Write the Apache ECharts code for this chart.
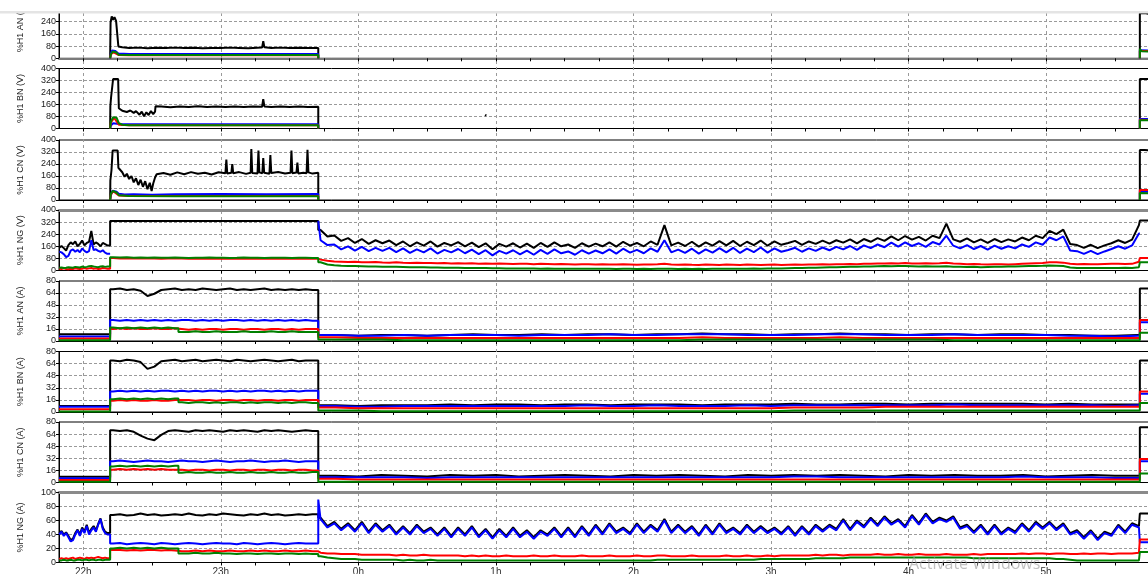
<!DOCTYPE html>
<html>
<head>
<meta charset="utf-8">
<script src="https://cdn.jsdelivr.net/npm/echarts@6/dist/echarts.min.js"></script>
<style>
  html, body { margin: 0; padding: 0; background: #fff; }
  #chart { width: 1148px; height: 574px; }
</style>
</head>
<body>
<div id="chart"></div>
<script>
// Time is expressed in minutes after 21:00.
const tMin = 49.4, tMax = 526.2;
const tOn1 = 71.7, tGreenStep = 101.5, tOff = 162.5, tOn2 = 520.9;

const hourTicks = [60, 120, 180, 240, 300, 360, 420, 480];
const hourLabels = ['22h', '23h', '0h', '1h', '2h', '3h', '4h', '5h'];

const panelNames = ['%H1 AN (V)', '%H1 BN (V)', '%H1 CN (V)', '%H1 NG (V)',
                    '%H1 AN (A)', '%H1 BN (A)', '%H1 CN (A)', '%H1 NG (A)'];
const panelMax  = [400, 400, 400, 400, 80, 80, 80, 100];
const panelStep = [80, 80, 80, 80, 16, 16, 16, 20];

// ---------- %H1 AN (V) ----------
const anV_black_on = [[71.7,0],[71.9,235],[72.4,275],[73.0,252],[73.6,270],[74.3,245],[74.9,258],[75.3,78],[77,72],[80,68],[84,70],[88,66],[92,69],[96,67],[100,70],[104,67],[108,69],[112,66],[116,68],[120,67],[124,70],[128,68],[132,66],[136,69],[138.0,70],[138.5,112],[139.0,72],[142,68],[146,70],[150,67],[154,69],[158,67],[162.5,68],[162.5,0]];
const anV_black_end = [[520.9,0],[520.9,295],[523.6,295],[524.0,286],[526.2,288]];
const anV_blue_on = [[71.7,0],[72.0,30],[72.6,52],[74.0,48],[75.3,32],[80,28],[100,29],[130,28],[162.5,28],[162.5,0]];
const anV_blue_end = [[520.9,0],[520.9,52],[526.2,50]];
const anV_red_on = [[71.7,0],[72.0,25],[73.0,40],[75.3,22],[80,20],[162.5,20],[162.5,0]];
const anV_red_end = [[520.9,0],[520.9,48],[526.2,47]];
const anV_green_on = [[71.7,0],[72.0,25],[72.8,44],[74.5,38],[75.3,24],[80,22],[162.5,22],[162.5,0]];
const anV_green_end = [[520.9,0],[520.9,62],[521.6,46],[526.2,45]];

// ---------- %H1 BN (V) ----------
const bnV_black_on = [[71.7,0],[71.8,150],[72.1,205],[72.7,212],[73.0,330],[75.2,330],[75.5,135],[77,118],[79,110],[80.5,120],[82,104],[83,116],[84.5,92],[85.5,112],[86.5,82],[87.5,108],[88.5,90],[89.5,116],[90.5,96],[91.3,112],[91.5,148],[94,146],[98,142],[102,147],[106,144],[110,148],[114,143],[118,146],[122,144],[126,147],[130,143],[134,146],[138.0,145],[138.5,196],[139.0,147],[142,144],[146,147],[150,143],[154,146],[158,144],[162.5,145],[162.5,0]];
const bnV_black_dot = [[200,null],[235.3,92],[235.8,86],[240,null]];
const bnV_black_end = [[520.9,0],[520.9,330],[526.2,330]];
const bnV_blue_on = [[71.7,0],[72.0,20],[73.0,35],[75.5,30],[80,28],[162.5,28],[162.5,0]];
const bnV_blue_end = [[520.9,0],[520.9,64],[526.2,62]];
const bnV_red_on = [[71.7,0],[72.0,40],[73.5,70],[75.5,25],[80,22],[162.5,22],[162.5,0]];
const bnV_red_end = [[520.9,0],[520.9,58],[526.2,57]];
const bnV_green_on = [[71.7,0],[72.0,45],[73.0,75],[74.5,72],[75.5,35],[77,25],[80,22],[162.5,21],[162.5,0]];
const bnV_green_end = [[520.9,0],[520.9,55],[526.2,54]];

// ---------- %H1 CN (V) ----------
const cnV_black_on = [[71.7,0],[71.8,130],[72.3,200],[72.8,330],[75.0,330],[75.3,215],[76,205],[77,185],[78,155],[79,175],[80,140],[81,160],[82,118],[83,145],[84,100],[85,135],[86,88],[87,125],[88,72],[89,115],[89.8,60],[90.5,110],[91.3,150],[92,172],[95,180],[98,168],[101,184],[104,172],[107,186],[110,175],[113,182],[116,170],[119,185],[122.0,178],[122.4,270],[122.8,176],[124.6,182],[125.0,240],[125.4,178],[128,186],[131,174],[133.0,182],[133.3,340],[133.7,180],[136.0,176],[136.4,330],[136.8,184],[138.1,178],[138.5,280],[138.9,182],[141.2,175],[141.6,300],[142.0,180],[145,186],[148,176],[150.4,182],[150.8,330],[151.2,178],[153.0,184],[153.4,250],[153.8,176],[156,182],[157.4,178],[157.8,335],[158.2,184],[160,176],[162.5,182],[162.5,0]];
const cnV_black_end = [[520.9,0],[520.9,333],[523.0,333],[523.5,322],[526.2,330]];
const cnV_blue_on = [[71.7,0],[72.0,30],[72.8,62],[74.5,55],[75.5,42],[78,36],[82,38],[90,35],[100,38],[120,40],[140,38],[162.5,40],[162.5,0]];
const cnV_blue_end = [[520.9,0],[520.9,56],[526.2,55]];
const cnV_red_on = [[71.7,0],[72.0,35],[73.0,58],[75.5,30],[80,26],[162.5,26],[162.5,0]];
const cnV_red_end = [[520.9,0],[520.9,67],[526.2,66]];
const cnV_green_on = [[71.7,0],[72.0,40],[72.8,60],[74.5,50],[75.5,32],[80,26],[100,25],[162.5,25],[162.5,0]];
const cnV_green_end = [[520.9,0],[520.9,46],[526.2,45]];

// ---------- %H1 NG (V) ----------
// before 22:12, one reading per minute from 49.5
const ngV_black_pre = [150,162,148,132,168,186,174,192,160,176,198,166,182,190,262,172,186,176,160,182,174,166];
const ngV_blue_pre  = [125,120,108,88,96,132,140,124,136,120,146,130,120,128,200,136,140,130,124,134,118,110];
const ngV_red_pre   = [12,10,14,10,8,12,10,14,12,10,12,16,12,14,16,12,14,10,12,16,14,12];
const ngV_green_pre = [18,20,16,18,22,20,18,24,22,20,26,22,24,28,30,26,24,22,26,28,24,26];
// 22:12 - 23:42, every 3 minutes from 73
const ngV_black_on = [328,328,328,328,328,328,328,328,328,328,328,328,328,328,328,328,328,328,328,328,328,328,328,328,328,328,328,328,328,328];
const ngV_red_on   = [82,80,81,79,80,79,80,78,79,80,79,78,79,78,80,78,79,77,78,79,78,79,77,78,79,78,77,78,78,77];
const ngV_green_on = [88,86,87,85,86,84,86,85,84,86,85,83,85,84,86,84,85,83,84,86,84,85,83,84,85,84,83,85,84,83];
// 23:42 - 5:41, every 3 minutes from 163.5
const ngV_black_low = [268,225,232,196,214,182,208,176,200,180, 198,168,192,160,186,164,192,158,182,166,
  188,160,184,154,180,140,176,158,180,152, 178,150,182,156,186,160,172,150,180,158,
  178,160,186,158,190,164,182,160,192,170, 300,166,184,162,190,158,186,164,194,166,
  196,162,190,168,198,164,192,170,182,196, 170,192,176,198,178,200,184,206,180,208,
  190,214,196,226,200,228,204,222,198,230, 214,310,206,190,212,186,206,182,208,188,
  206,192,218,200,230,214,262,240,270,175, 168,150,170,148,166,180,200,182,204,300];
const ngV_blue_low = [200,168,172,140,160,132,156,128,150,130, 150,122,146,116,140,120,146,112,136,120,
  142,114,138,108,134,100,130,112,134,106, 132,104,136,110,140,114,126,104,134,112,
  132,114,140,112,144,118,136,114,146,124, 200,120,138,116,144,112,140,118,148,120,
  150,116,144,122,152,118,146,124,136,150, 124,146,130,152,134,156,140,162,136,166,
  148,172,154,184,158,186,162,180,156,188, 172,230,164,146,168,142,162,138,164,144,
  160,146,172,156,186,170,218,200,226,132, 128,110,130,108,126,142,160,144,166,245];
const ngV_red_low = [72,64,60,58,56,58,55,54,56,53, 52,54,51,50,52,49,50,48,50,47,
  48,46,48,45,47,44,46,45,43,45, 44,42,44,43,41,43,42,40,42,41,
  40,42,40,39,41,40,38,40,39,41, 44,39,38,40,38,37,39,38,37,39,
  38,37,39,38,37,38,39,37,38,39, 38,40,39,41,40,42,41,43,42,44,
  45,47,46,48,47,49,47,46,48,47, 48,52,46,44,42,43,41,40,42,41,
  40,42,44,46,48,50,54,55,52,44, 42,43,41,42,43,44,45,43,44,58];
const ngV_green_low = [55,40,35,32,30,29,28,27,26,25, 25,24,23,22,22,21,20,20,19,18,
  18,17,17,16,16,15,15,14,14,14, 13,13,12,13,12,12,11,12,11,11,
  11,12,11,10,11,11,10,11,10,11, 12,11,10,11,10,11,10,11,12,11,
  12,11,12,13,12,13,14,13,15,16, 17,18,19,20,21,22,23,24,25,26,
  27,28,29,28,30,29,28,27,28,27, 26,28,25,24,23,24,22,23,24,25,
  26,27,28,29,30,31,33,32,30,20, 17,16,17,16,17,16,17,18,17,22];
const ngV_end = { black: 330, red: 82, green: 54 };

// ---------- %H1 AN / BN / CN (A) ----------
// readings every 3 minutes from 73 (22:13 - 23:40)
const anA_black_on = [69,70,68,69,67,60,63,68,69,70,68,69,68,70,69,68,69,70,68,69,68,69,70,68,69,68,69,68,69,68];
const anA_blue_on  = [28,27,28,27,28,27,28,27,28,27,28,28,27,28,27,28,27,28,28,27,28,27,28,27,28,27,28,27,28,27];
const anA_red_on   = [16,17,16,17,16,16,17,16,16,17,16,15,16,15,16,16,15,16,16,15,16,16,15,16,16,15,16,15,16,16];
const anA_green_on1 = [18,17,18,17,18,17,18,17,18,17];
const anA_green_on2 = [12,12,13,12,12,13,12,12,12,13,12,12,12,13,12,12,13,12,12,12];
const bnA_black_on = [68,67,69,68,66,57,60,67,68,69,67,68,69,67,68,69,68,67,69,68,67,68,69,68,67,68,69,67,68,68];
const bnA_blue_on  = [27,28,27,28,27,28,27,28,28,27,28,27,28,27,28,28,27,28,27,28,27,28,28,27,28,27,28,27,28,28];
const bnA_red_on   = [15,16,15,16,15,15,16,15,15,16,16,16,15,16,16,15,16,16,15,16,16,15,16,16,15,16,16,15,16,16];
const bnA_green_on1 = [17,18,17,18,17,18,17,18,17,18];
const bnA_green_on2 = [13,12,13,13,12,13,12,13,13,12,13,12,13,13,12,13,12,13,13,12];
const cnA_black_on = [69,68,69,67,62,58,56,63,68,69,68,67,69,68,69,68,67,69,68,69,68,67,69,68,69,68,67,68,69,68];
const cnA_blue_on  = [28,29,28,27,28,29,28,28,27,28,29,28,28,27,28,29,28,27,28,28,29,28,27,28,28,29,28,27,28,28];
const cnA_red_on   = [17,18,17,18,17,18,17,18,17,17,17,16,17,17,16,17,17,16,17,17,16,17,17,16,17,17,16,17,17,16];
const cnA_green_on1 = [21,22,21,22,21,22,21,22,21,22];
const cnA_green_on2 = [13,14,13,13,14,13,13,14,13,13,14,13,13,14,13,13,14,13,13,14];

// readings every 10 minutes from 170 (23:50 - 5:40)
const anA_black_low = [8,7,8,8,7,8,9,8,8,9,8,9,9,8,9,9,10,9,9,8,9,9,10,9,9,8,9,9,8,9,9,8,8,7,7,8];
const anA_blue_low  = [8,7,7,8,7,8,8,8,7,8,8,8,9,8,8,9,9,9,8,8,8,9,9,9,8,8,8,9,8,8,8,8,7,7,6,7];
const anA_red_low   = [5,4,4,4,4,4,4,4,4,4,4,4,4,4,4,4,5,4,4,4,4,4,5,4,4,4,4,4,4,4,4,4,4,4,4,4];
const anA_green_low = [2,2,2,1,1,1,1,1,1,1,1,1,1,1,1,1,2,2,2,2,2,2,2,2,2,2,2,1,1,1,1,1,1,1,1,1];
const bnA_black_low = [9,8,9,9,9,10,9,10,10,9,10,10,9,10,10,10,9,10,10,10,11,10,10,11,11,10,11,11,11,11,11,10,11,10,10,10];
const bnA_blue_low  = [8,7,7,8,8,8,8,8,8,8,8,9,8,8,9,8,8,8,9,8,9,9,9,9,9,9,9,10,9,9,9,9,9,9,8,9];
const bnA_red_low   = [6,5,5,5,5,5,5,5,5,5,5,5,5,5,5,5,5,5,5,5,6,6,6,6,7,7,7,7,7,7,7,7,7,7,7,7];
const bnA_green_low = [2,2,1,1,1,1,1,1,1,1,1,1,1,1,1,1,1,1,1,1,2,2,2,2,2,2,2,2,2,2,2,2,2,2,2,2];
const cnA_black_low = [9,8,10,9,8,10,9,10,8,9,10,9,8,10,9,10,9,8,10,9,10,9,10,9,8,10,9,10,9,9,10,8,9,10,9,9];
const cnA_blue_low  = [7,7,7,7,6,7,7,7,7,7,7,7,7,7,7,7,7,7,7,7,8,8,7,7,7,7,7,7,7,7,8,7,7,7,6,6];
const cnA_red_low   = [5,4,4,4,4,4,4,4,4,4,4,4,4,4,4,4,4,4,4,4,4,4,4,4,4,4,4,4,4,4,4,4,4,4,4,4];
const cnA_green_low = [1,1,1,1,1,1,1,1,1,1,1,1,1,1,1,1,1,1,1,1,1,1,1,1,1,1,1,1,1,1,1,1,1,1,1,1];

// levels before 22:12 and after 5:41 (black, blue, red, green)
const anA_pre = [9, 6, 3.5, 1],  anA_end = [70, 25, 28, 11];
const bnA_pre = [8, 7, 3.5, 0.8], bnA_end = [68, 24, 27, 12];
const cnA_pre = [7.5, 5.5, 3.3, 1], cnA_end = [73, 28, 31, 12];

// ---------- %H1 NG (A) ----------
const ngA_black_pre = [42,45,40,43,38,32,34,42,47,40,50,44,54,42,48,52,46,55,63,50,44,42];
const ngA_blue_pre  = [40,44,38,42,36,30,32,40,46,38,48,42,52,40,46,50,44,54,62,48,42,40];
const ngA_red_pre   = [5,6,5,6,5,6,7,5,6,7,6,5,7,6,7,6,7,8,7,6,7,6];
const ngA_green_pre = [3,3,4,3,3,4,3,3,4,4,3,4,4,3,4,4,3,4,4,3,4,4];
const ngA_black_on = [68,69,67,68,70,68,69,67,68,69,68,70,68,67,69,68,70,69,68,67,69,68,70,68,69,67,68,69,68,69];
const ngA_blue_on  = [27,28,26,27,28,27,26,28,27,26,27,28,27,26,27,28,27,27,26,28,27,26,27,28,27,26,27,28,27,27];
const ngA_red_on   = [18,18,17,18,17,18,18,17,18,17,16,16,17,16,17,16,16,17,16,16,17,16,17,16,16,17,16,16,17,16];
const ngA_green_on1 = [20,21,20,21,20,21,20,21,20,20];
const ngA_green_on2 = [13,13,14,13,13,14,13,13,12,13,13,12,13,13,12,13,13,12,13,12];
const ngA_black_low = [64,52,58,48,56,46,58,44,56,46, 54,42,52,42,54,44,50,40,50,38,
  50,40,52,38,48,36,48,38,50,38, 46,36,46,40,50,38,50,38,52,40,
  54,42,56,44,50,42,56,44,54,46, 62,44,54,44,52,40,54,42,56,44,
  50,42,54,44,52,44,50,42,52,40, 52,42,54,46,54,48,62,48,60,52,
  64,54,66,56,62,52,68,56,70,58, 64,60,66,50,54,44,54,42,54,42,
  50,44,56,46,58,50,58,48,56,42, 46,36,46,34,44,40,54,44,56,52];
const ngA_blue_low = [62,50,56,46,54,44,56,42,54,44, 52,40,50,40,52,42,48,38,48,36,
  48,38,50,36,46,34,46,36,48,36, 44,34,44,38,48,36,48,36,50,38,
  52,40,54,42,48,40,54,42,52,44, 60,42,52,42,50,38,52,40,54,42,
  48,40,52,42,50,42,48,40,50,38, 50,40,52,44,52,46,60,46,58,50,
  62,52,64,54,60,50,66,54,68,56, 62,58,64,48,52,42,52,40,52,40,
  48,42,54,44,56,48,56,46,54,40, 44,34,44,32,42,38,52,42,54,50];
const ngA_red_low = [14,13,13,12,12,12,11,11,11,11, 11,10,11,10,10,11,10,10,10,10,
  10,9,10,9,10,9,9,10,9,9, 9,10,9,9,10,9,9,9,10,9,
  9,9,10,9,9,9,10,9,9,10, 10,9,9,9,10,9,9,9,9,10,
  9,9,10,9,9,10,9,10,10,10, 10,10,11,10,11,11,10,11,11,11,
  11,12,11,11,12,11,11,12,11,11, 11,12,11,11,11,12,11,12,12,12,
  12,12,13,12,13,13,12,13,13,12, 12,13,12,13,13,12,13,13,13,14];
const ngA_green_low = [9,7,6,5,5,5,4,4,4,4, 4,4,3,4,3,3,4,3,3,3,
  3,3,3,3,3,3,3,3,3,3, 3,3,3,3,3,3,3,3,3,3,
  3,3,3,3,3,3,3,3,3,4, 4,4,4,4,4,4,4,4,4,4,
  4,4,4,4,5,5,5,5,5,5, 5,5,6,6,6,6,6,7,7,7,
  7,7,7,7,7,7,7,7,7,7, 7,7,7,7,7,6,6,6,6,6,
  6,6,6,6,6,6,6,5,5,4, 3,3,3,3,3,3,3,3,3,3];
const ngA_end = [70, 29, 33, 15];

// ---------- assembly helpers ----------
const pts = (t0, dt, vals) => vals.map((v, i) => [t0 + i * dt, v]);
const flat = (a, b, v) => [[a, v], [b, v]];

// joins the four periods with vertical steps at switching times; a null period leaves a gap
function phased(a, b, c, d) {
  const edges = [tOn1, tOff, tOn2];
  const parts = [a, b, c, d];
  const out = [];
  parts.forEach((p, k) => {
    if (k > 0) {
      const e = edges[k - 1];
      const prev = parts[k - 1];
      if (prev) out.push([e, prev[prev.length - 1][1]]);
      if (p) {
        if (!prev) out.push([e, null]);
        out.push([e, p[0][1]]);
      } else {
        out.push([e, null]);
      }
    }
    if (p) out.push(...p);
  });
  return out;
}
const onWithStep = (g1, g2) => [...pts(73, 3, g1), [tGreenStep, g1[g1.length - 1]],
                                [tGreenStep, g2[0]], ...pts(103, 3, g2)];

const colors = { black: '#000000', blue: '#0000ff', red: '#ff0000', green: '#008000' };

const panels = [
  { black: phased(null, anV_black_on, null, anV_black_end), blue: phased(null, anV_blue_on, null, anV_blue_end),
    red: phased(null, anV_red_on, null, anV_red_end), green: phased(null, anV_green_on, null, anV_green_end) },
  { black: phased(null, bnV_black_on, bnV_black_dot, bnV_black_end), blue: phased(null, bnV_blue_on, null, bnV_blue_end),
    red: phased(null, bnV_red_on, null, bnV_red_end), green: phased(null, bnV_green_on, null, bnV_green_end) },
  { black: phased(null, cnV_black_on, null, cnV_black_end), blue: phased(null, cnV_blue_on, null, cnV_blue_end),
    red: phased(null, cnV_red_on, null, cnV_red_end), green: phased(null, cnV_green_on, null, cnV_green_end) },
  { black: phased(pts(49.5, 1, ngV_black_pre), pts(73, 3, ngV_black_on), pts(163.5, 3, ngV_black_low), flat(tOn2, tMax, ngV_end.black)),
    blue: phased(pts(49.5, 1, ngV_blue_pre), null, [[tOff, 328], ...pts(163.5, 3, ngV_blue_low)], null),
    red: phased(pts(49.5, 1, ngV_red_pre), pts(73, 3, ngV_red_on), pts(163.5, 3, ngV_red_low), flat(tOn2, tMax, ngV_end.red)),
    green: phased(pts(49.5, 1, ngV_green_pre), pts(73, 3, ngV_green_on), pts(163.5, 3, ngV_green_low), flat(tOn2, tMax, ngV_end.green)) }
];

function currentPanel(pre, black, blue, red, g1, g2, bLow, uLow, rLow, gLow, end) {
  return {
    black: phased(flat(tMin, tOn1, pre[0]), pts(73, 3, black), pts(170, 10, bLow), flat(tOn2, tMax, end[0])),
    blue: phased(flat(tMin, tOn1, pre[1]), pts(73, 3, blue), pts(170, 10, uLow), flat(tOn2, tMax, end[1])),
    red: phased(flat(tMin, tOn1, pre[2]), pts(73, 3, red), pts(170, 10, rLow), flat(tOn2, tMax, end[2])),
    green: phased(flat(tMin, tOn1, pre[3]), onWithStep(g1, g2), pts(170, 10, gLow), flat(tOn2, tMax, end[3]))
  };
}
panels.push(currentPanel(anA_pre, anA_black_on, anA_blue_on, anA_red_on, anA_green_on1, anA_green_on2,
  anA_black_low, anA_blue_low, anA_red_low, anA_green_low, anA_end));
panels.push(currentPanel(bnA_pre, bnA_black_on, bnA_blue_on, bnA_red_on, bnA_green_on1, bnA_green_on2,
  bnA_black_low, bnA_blue_low, bnA_red_low, bnA_green_low, bnA_end));
panels.push(currentPanel(cnA_pre, cnA_black_on, cnA_blue_on, cnA_red_on, cnA_green_on1, cnA_green_on2,
  cnA_black_low, cnA_blue_low, cnA_red_low, cnA_green_low, cnA_end));
panels.push({
  black: phased(pts(49.5, 1, ngA_black_pre), pts(73, 3, ngA_black_on), pts(163.5, 3, ngA_black_low), flat(tOn2, tMax, ngA_end[0])),
  blue: phased(pts(49.5, 1, ngA_blue_pre), pts(73, 3, ngA_blue_on), [[tOff, 90], ...pts(163.5, 3, ngA_blue_low)], flat(tOn2, tMax, ngA_end[1])),
  red: phased(pts(49.5, 1, ngA_red_pre), pts(73, 3, ngA_red_on), pts(163.5, 3, ngA_red_low), flat(tOn2, tMax, ngA_end[2])),
  green: phased(pts(49.5, 1, ngA_green_pre), onWithStep(ngA_green_on1, ngA_green_on2), pts(163.5, 3, ngA_green_low), flat(tOn2, tMax, ngA_end[3]))
});

// ---------- layout ----------
const panelTop    = [-2.7, 68.5, 140, 210, 281, 351.5, 422, 492.5];
const panelHeight = [61, 60, 60, 60.5, 60, 60.5, 60.5, 70];
const quarterTicks = [];
for (let t = 60; t <= tMax; t += 15) quarterTicks.push(t);

const grids = [], xAxes = [], yAxes = [], series = [];
const dashStyle = { color: '#9a9a9a', width: 1, type: [3, 2] };
const fontFamily = 'Liberation Sans, Arial, sans-serif';

panelNames.forEach((name, i) => {
  grids.push({ left: 59, right: -4, top: panelTop[i], height: panelHeight[i],
               outerBoundsMode: 'none', containLabel: false,
               show: true, borderColor: '#000', borderWidth: 1 });
  const xi = xAxes.length;
  xAxes.push({
    gridIndex: i, type: 'value', min: tMin, max: tMax,
    axisLine: { show: true, lineStyle: { color: i === 0 ? '#7a7a7a' : '#000', width: i === 0 ? 2 : 1 } },
    axisTick: { show: true, customValues: quarterTicks, length: 3, lineStyle: { color: '#000' } },
    axisLabel: { show: false },
    splitLine: { show: false }
  });
  if (i === 3 || i === 7) {
    xAxes.push({
      gridIndex: i, type: 'value', position: 'top', min: tMin, max: tMax,
      axisLine: { show: true, lineStyle: { color: '#8a8a8a', width: 3 } },
      axisTick: { show: false }, axisLabel: { show: false }, splitLine: { show: false }
    });
  }
  yAxes.push({
    gridIndex: i, type: 'value', min: 0, max: panelMax[i], interval: panelStep[i],
    name, nameLocation: 'middle', nameGap: 34,
    nameTextStyle: { fontSize: 9, color: '#222', fontFamily },
    axisLine: { show: true, lineStyle: { color: '#000' } },
    axisTick: { show: true, length: 3, lineStyle: { color: '#000' } },
    axisLabel: { fontSize: 9, color: '#1a1a1a', margin: 3, fontFamily,
                 formatter: v => (i === 0 && v > 300) ? '' : String(v) },
    splitLine: { show: true, showMinLine: false, showMaxLine: false, lineStyle: dashStyle }
  });
  ['black', 'blue', 'red', 'green'].forEach(key => {
    series.push({
      type: 'line', xAxisIndex: xi, yAxisIndex: i, data: panels[i][key],
      showSymbol: false, symbol: 'none', connectNulls: false, clip: true,
      lineStyle: { color: colors[key], width: 2 }, itemStyle: { color: colors[key] },
      animation: false, silent: true
    });
  });
});

// full-height layer carrying the hour grid lines and the time labels
grids.push({ left: 59, right: -4, top: 13, height: 549.5, show: false,
             outerBoundsMode: 'none', containLabel: false });
xAxes.push({
  gridIndex: 8, type: 'value', min: tMin, max: tMax,
  axisLine: { show: false },
  axisTick: { show: false, customValues: hourTicks },
  axisLabel: { show: true, customValues: hourTicks, margin: 5, fontSize: 10, color: '#333', fontFamily,
               formatter: v => hourLabels[hourTicks.indexOf(Math.round(v))] || '' },
  splitLine: { show: true, lineStyle: { color: '#9a9a9a', width: 1, type: [3, 3] } }
});
yAxes.push({ gridIndex: 8, type: 'value', show: false, min: 0, max: 1 });

const chart = echarts.init(document.getElementById('chart'), null, { renderer: 'canvas' });
chart.setOption({
  backgroundColor: '#ffffff',
  animation: false,
  grid: grids,
  xAxis: xAxes,
  yAxis: yAxes,
  series,
  graphic: [
    { type: 'rect', z: 100, shape: { x: 0, y: 0, width: 1148, height: 11 }, style: { fill: '#ffffff' } },
    { type: 'rect', z: 100, shape: { x: 0, y: 11, width: 1148, height: 2.5 }, style: { fill: '#e4e4e4' } },
    { type: 'text', z: 100, left: 909, top: 556,
      style: { text: 'Activate Windows', fontSize: 16, fontFamily: 'Open Sans, sans-serif', fill: 'rgba(150,150,150,0.6)' } }
  ]
});
</script>
</body>
</html>
